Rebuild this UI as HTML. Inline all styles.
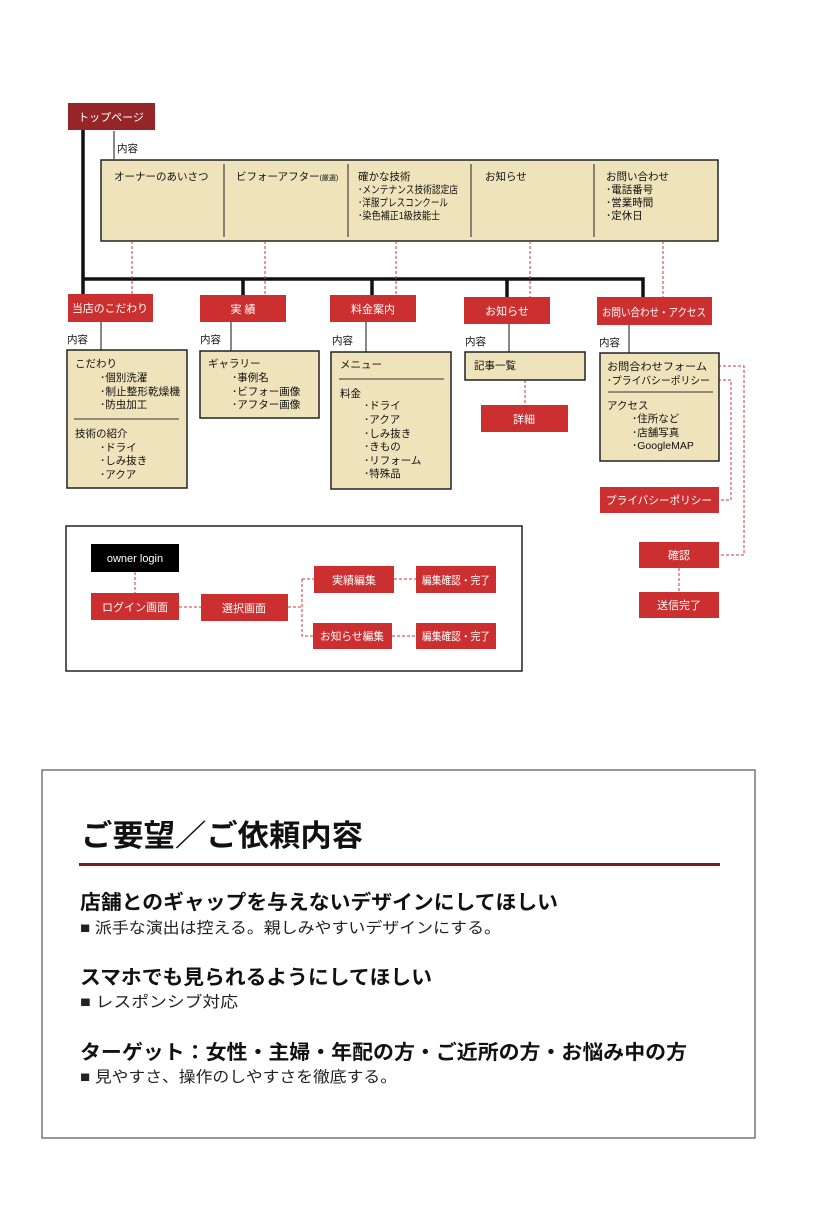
<!DOCTYPE html>
<html><head><meta charset="utf-8"><style>
html,body{margin:0;padding:0;background:#fff;}
svg{display:block;}
text{font-family:"Liberation Sans","Noto Sans CJK JP",sans-serif;}
.w{fill:#fff;font-size:11px;}
.t{fill:#111;font-size:10.5px;}
</style></head><body>
<svg width="834" height="1213" viewBox="0 0 834 1213" xmlns="http://www.w3.org/2000/svg">
<rect width="834" height="1213" fill="#fff"/>
<g stroke="#111" stroke-width="3.5" fill="none">
<path d="M83 130V294M83 279H643V297M243 279V295M372 279V295M507 279V297"/>
</g>
<g stroke="#111" stroke-width="1" fill="none">
<path d="M114 131V159M101 322V350M231 322V351M366 322V352M509 324V352M629 325V353"/>
</g>
<rect x="68" y="103" width="87" height="27" fill="#96252a"/>
<text class="w" x="111" y="121" text-anchor="middle">トップページ</text>
<text class="t" x="117" y="152">内容</text>
<rect x="101" y="160" width="617" height="81" fill="#efe3bb" stroke="#222" stroke-width="1.5"/>
<g stroke="#222" stroke-width="1"><path d="M224 164V237M348 164V237M471 164V237M594 164V237"/></g>
<text class="t" x="114" y="180">オーナーのあいさつ</text>
<text class="t" x="236" y="180">ビフォーアフター<tspan font-size="7">(厳選)</tspan></text>
<text class="t" x="358" y="180">確かな技術</text>
<text class="t" x="358" y="193" textLength="100" lengthAdjust="spacingAndGlyphs">･メンテナンス技術認定店</text>
<text class="t" x="358" y="206" textLength="90" lengthAdjust="spacingAndGlyphs">･洋服プレスコンクール</text>
<text class="t" x="358" y="219" textLength="82" lengthAdjust="spacingAndGlyphs">･染色補正1級技能士</text>
<text class="t" x="485" y="180">お知らせ</text>
<text class="t" x="606" y="180">お問い合わせ</text>
<text class="t" x="606" y="193">･電話番号</text>
<text class="t" x="606" y="206">･営業時間</text>
<text class="t" x="606" y="219">･定休日</text>
<g stroke="#d2333a" stroke-width="1" stroke-dasharray="3,2" fill="none">
<path d="M132 241V294M265 241V295M396 241V295M530 241V297M663 241V297"/>
<path d="M525 380V405"/>
<path d="M713 366H744V555H719M713 380H731V500H719M679 568V592"/>
<path d="M135 572V593M179 607H201M288 607H302M302 579V636H313M302 579H314M394 579H416M392 636H416"/>
</g>
<g fill="#cc2f30">
<rect x="68" y="294" width="85" height="28"/>
<rect x="200" y="295" width="86" height="27"/>
<rect x="330" y="295" width="86" height="27"/>
<rect x="464" y="297" width="86" height="27"/>
<rect x="597" y="297" width="115" height="28"/>
<rect x="481" y="405" width="87" height="27"/>
<rect x="600" y="487" width="119" height="26"/>
<rect x="639" y="542" width="80" height="26"/>
<rect x="639" y="592" width="80" height="26"/>
<rect x="91" y="593" width="88" height="27"/>
<rect x="201" y="594" width="87" height="27"/>
<rect x="314" y="566" width="80" height="27"/>
<rect x="416" y="566" width="80" height="27"/>
<rect x="313" y="623" width="79" height="26"/>
<rect x="416" y="623" width="80" height="26"/>
</g>
<g text-anchor="middle">
<text class="w" x="110" y="312" textLength="76" lengthAdjust="spacingAndGlyphs">当店のこだわり</text>
<text class="w" x="243" y="313">実 績</text>
<text class="w" x="373" y="313">料金案内</text>
<text class="w" x="507" y="315">お知らせ</text>
<text class="w" x="654" y="316" textLength="104" lengthAdjust="spacingAndGlyphs">お問い合わせ・アクセス</text>
<text class="w" x="524" y="423">詳細</text>
<text class="w" x="659" y="504" textLength="106" lengthAdjust="spacingAndGlyphs">プライバシーポリシー</text>
<text class="w" x="679" y="559">確認</text>
<text class="w" x="679" y="609">送信完了</text>
<text class="w" x="135" y="611">ログイン画面</text>
<text class="w" x="244" y="612">選択画面</text>
<text class="w" x="354" y="584">実績編集</text>
<text class="w" x="456" y="584" textLength="68" lengthAdjust="spacingAndGlyphs">編集確認・完了</text>
<text class="w" x="352" y="640" textLength="64" lengthAdjust="spacingAndGlyphs">お知らせ編集</text>
<text class="w" x="456" y="640" textLength="68" lengthAdjust="spacingAndGlyphs">編集確認・完了</text>
</g>
<text class="t" x="67" y="343">内容</text>
<text class="t" x="200" y="343">内容</text>
<text class="t" x="332" y="344">内容</text>
<text class="t" x="465" y="345">内容</text>
<text class="t" x="599" y="346">内容</text>
<g fill="#efe3bb" stroke="#222" stroke-width="1.5">
<rect x="67" y="350" width="120" height="138"/>
<rect x="200" y="351" width="119" height="67"/>
<rect x="331" y="352" width="120" height="137"/>
<rect x="465" y="352" width="120" height="28"/>
<rect x="600" y="353" width="119" height="108"/>
</g>
<g stroke="#333" stroke-width="1"><path d="M74 419H179M339 379H444M608 392H713"/></g>
<text class="t" x="75" y="367">こだわり</text>
<text class="t" x="100" y="381">･個別洗濯</text>
<text class="t" x="100" y="395" textLength="80" lengthAdjust="spacingAndGlyphs">･制止整形乾燥機</text>
<text class="t" x="100" y="408">･防虫加工</text>
<text class="t" x="75" y="437">技術の紹介</text>
<text class="t" x="100" y="451">･ドライ</text>
<text class="t" x="100" y="464">･しみ抜き</text>
<text class="t" x="100" y="478">･アクア</text>
<text class="t" x="208" y="367">ギャラリー</text>
<text class="t" x="232" y="381">･事例名</text>
<text class="t" x="232" y="395">･ビフォー画像</text>
<text class="t" x="232" y="408">･アフター画像</text>
<text class="t" x="340" y="368">メニュー</text>
<text class="t" x="340" y="397">料金</text>
<text class="t" x="364" y="409">･ドライ</text>
<text class="t" x="364" y="423">･アクア</text>
<text class="t" x="364" y="437">･しみ抜き</text>
<text class="t" x="364" y="450">･きもの</text>
<text class="t" x="364" y="464">･リフォーム</text>
<text class="t" x="364" y="477">･特殊品</text>
<text class="t" x="474" y="369">記事一覧</text>
<text class="t" x="607" y="370" textLength="100" lengthAdjust="spacingAndGlyphs">お問合わせフォーム</text>
<text class="t" x="607" y="384" textLength="103" lengthAdjust="spacingAndGlyphs">･プライバシーポリシー</text>
<text class="t" x="607" y="409">アクセス</text>
<text class="t" x="632" y="422">･住所など</text>
<text class="t" x="632" y="436">･店舗写真</text>
<text class="t" x="632" y="449">･GoogleMAP</text>
<rect x="66" y="526" width="456" height="145" fill="none" stroke="#222" stroke-width="1.5"/>
<rect x="91" y="544" width="88" height="28" fill="#000"/>
<text class="w" x="135" y="562" text-anchor="middle">owner login</text>
<rect x="42" y="770" width="713" height="368" fill="none" stroke="#555" stroke-width="1.2"/>
<text x="81" y="846" font-size="30" font-weight="bold" fill="#111" textLength="282" lengthAdjust="spacingAndGlyphs">ご要望／ご依頼内容</text>
<rect x="79" y="863" width="641" height="3" fill="#7a1a1a"/>
<text x="80" y="909" font-size="20" font-weight="bold" fill="#111" textLength="478" lengthAdjust="spacingAndGlyphs">店舗とのギャップを与えないデザインにしてほしい</text>
<text x="80" y="933" font-size="15.5" fill="#222" textLength="421" lengthAdjust="spacingAndGlyphs">■ 派手な演出は控える。親しみやすいデザインにする。</text>
<text x="80" y="984" font-size="20" font-weight="bold" fill="#111" textLength="352" lengthAdjust="spacingAndGlyphs">スマホでも見られるようにしてほしい</text>
<text x="80" y="1007" font-size="15.5" fill="#222" textLength="158" lengthAdjust="spacingAndGlyphs">■ レスポンシブ対応</text>
<text x="80" y="1059" font-size="20" font-weight="bold" fill="#111" textLength="607" lengthAdjust="spacingAndGlyphs">ターゲット：女性・主婦・年配の方・ご近所の方・お悩み中の方</text>
<text x="80" y="1082" font-size="15.5" fill="#222" textLength="317" lengthAdjust="spacingAndGlyphs">■ 見やすさ、操作のしやすさを徹底する。</text>
</svg>
</body></html>
